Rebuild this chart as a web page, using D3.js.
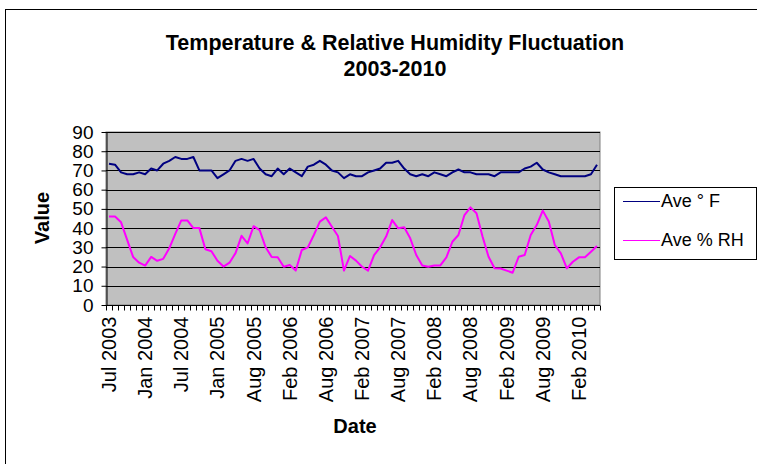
<!DOCTYPE html>
<html>
<head>
<meta charset="utf-8">
<script src="https://cdn.jsdelivr.net/npm/d3@7"></script>
<style>
body { margin:0; background:#fff; }
svg text { font-family:"Liberation Sans", Arial, sans-serif; fill:#000; }
</style>
</head>
<body>
<svg id="chart" width="757" height="464"></svg>
<script>
"use strict";

// monthly readings, Apr 2005 is missing in the sheet
var dates = [
	"Jul 2003","Aug 2003","Sep 2003","Oct 2003","Nov 2003","Dec 2003",
	"Jan 2004","Feb 2004","Mar 2004","Apr 2004","May 2004","Jun 2004","Jul 2004","Aug 2004","Sep 2004","Oct 2004","Nov 2004","Dec 2004",
	"Jan 2005","Feb 2005","Mar 2005","May 2005","Jun 2005","Jul 2005","Aug 2005","Sep 2005","Oct 2005","Nov 2005","Dec 2005",
	"Jan 2006","Feb 2006","Mar 2006","Apr 2006","May 2006","Jun 2006","Jul 2006","Aug 2006","Sep 2006","Oct 2006","Nov 2006","Dec 2006",
	"Jan 2007","Feb 2007","Mar 2007","Apr 2007","May 2007","Jun 2007","Jul 2007","Aug 2007","Sep 2007","Oct 2007","Nov 2007","Dec 2007",
	"Jan 2008","Feb 2008","Mar 2008","Apr 2008","May 2008","Jun 2008","Jul 2008","Aug 2008","Sep 2008","Oct 2008","Nov 2008","Dec 2008",
	"Jan 2009","Feb 2009","Mar 2009","Apr 2009","May 2009","Jun 2009","Jul 2009","Aug 2009","Sep 2009","Oct 2009","Nov 2009","Dec 2009",
	"Jan 2010","Feb 2010","Mar 2010","Apr 2010","May 2010"
];

var aveF = [
	73.5,73,69,68,68,69,68,71,70,73.5,
	75,77,76,76,77,70,70,70,66,68,
	70,75,76,75,76,71,68,67,71,68,
	71,69,67,72,73,75,73,70,69,66,
	68,67,67,69,70,71,74,74,75,71,
	68,67,68,67,69,68,67,69,70.5,69,
	69,68,68,68,67,69,69,69,69,71,
	72,74,70.5,69,68,67,67,67,67,67,
	68,73
];

var aveRH = [
	46,46,43,34,25,22,20.5,25,23,24,
	29.5,37,44,44,40,40,29,28,23,20,
	22,27,36,32,41,39,30,25,24.8,19.9,
	20.8,17.9,28.6,30,36.4,43.4,45.6,40.7,35.9,17.9,
	25.5,23.1,19.9,17.9,26,30,35.6,44.2,39.9,40.4,
	34.7,26,20.6,19.9,20.6,20.6,24.8,32.9,36.4,46.8,
	50.8,47.7,35.6,25.1,19.1,19,17.9,16.8,25.1,26,
	36.4,41.6,49.1,43.4,31.2,26.9,19.1,22.5,24.8,24.8,
	27.7,30.7
];

var yTicks = [0,10,20,30,40,50,60,70,80,90];
var seriesNames = ["Ave \u00B0 F", "Ave % RH"];
var seriesColors = ["#000080", "#FF00FF"];

function drawChart(){
	var svg = d3.select("#chart");

	//	outer chart frame
	svg.append("rect").attr("x",5.5).attr("y",9.5).attr("width",800).attr("height",500)
		.attr("fill","#fff").attr("stroke","#000").attr("stroke-width",1);

	var pL = 106, pT = 132, pR = 600, pB = 305;

	var x = d3.scaleBand().domain(d3.range(dates.length)).range([pL, pR]);
	var y = d3.scaleLinear().domain([0, 90]).range([pB, pT]);

	//	plot area
	svg.append("rect").attr("x",pL).attr("y",pT).attr("width",pR-pL).attr("height",pB-pT)
		.attr("fill","#C0C0C0").attr("stroke","#808080").attr("stroke-width",1);

	//	gridlines
	svg.append("g").selectAll("line").data(yTicks.slice(1)).enter().append("line")
		.attr("x1",pL).attr("x2",pR)
		.attr("y1",function(d){ return Math.round(y(d))+0.5; })
		.attr("y2",function(d){ return Math.round(y(d))+0.5; })
		.attr("stroke","#000").attr("stroke-width",1);

	//	y axis
	var yAxis = svg.append("g").attr("transform","translate(" + (pL+0.5) + ",0)")
		.call(d3.axisLeft(y).tickValues(yTicks).tickSize(5).tickSizeOuter(0).tickPadding(8));
	yAxis.attr("font-family",null).attr("font-size",null);
	yAxis.select(".domain").attr("stroke","#000");
	yAxis.selectAll("line").attr("stroke","#000");
	yAxis.selectAll("text").style("font-size","19px").attr("fill","#000");

	//	x axis - ticks on every category boundary, label every 6th
	var xg = svg.append("g").attr("transform","translate(0," + (pB+0.5) + ")");
	xg.append("line").attr("x1",pL).attr("x2",pR).attr("stroke","#000");
	xg.selectAll(".tk").data(d3.range(dates.length+1)).enter().append("line")
		.attr("class","tk")
		.attr("x1",function(i){ return Math.round(pL + i*x.step())+0.5; })
		.attr("x2",function(i){ return Math.round(pL + i*x.step())+0.5; })
		.attr("y1",0).attr("y2",5).attr("stroke","#000");

	xg.selectAll(".lbl").data(d3.range(0, dates.length, 6)).enter().append("text")
		.attr("class","lbl")
		.attr("transform",function(i){ return "translate(" + (x(i) + x.bandwidth()/2) + ",11) rotate(-90)"; })
		.attr("text-anchor","end").attr("dy","0.35em")
		.style("font-size","20px")
		.text(function(i){ return dates[i]; });

	//	series lines
	var series = [aveF, aveRH];
	var line = d3.line()
		.x(function(d,i){ return x(i) + x.bandwidth()/2; })
		.y(function(d){ return y(d); });

	svg.append("g").selectAll("path").data(series).enter().append("path")
		.attr("d", line)
		.attr("fill","none")
		.attr("stroke",function(d,i){ return seriesColors[i]; })
		.attr("stroke-width",2)
		.attr("stroke-linejoin","round");

	//	titles
	svg.append("text").attr("x",395).attr("y",50).attr("text-anchor","middle")
		.style("font-size","21.5px").style("font-weight","bold")
		.text("Temperature & Relative Humidity Fluctuation");
	svg.append("text").attr("x",395).attr("y",76).attr("text-anchor","middle")
		.style("font-size","21.5px").style("font-weight","bold")
		.text("2003-2010");

	svg.append("text").attr("transform","translate(49,218) rotate(-90)").attr("text-anchor","middle")
		.style("font-size","20px").style("font-weight","bold").text("Value");
	svg.append("text").attr("x",355).attr("y",433).attr("text-anchor","middle")
		.style("font-size","20px").style("font-weight","bold").text("Date");

	//	legend
	var lg = svg.append("g");
	lg.append("rect").attr("x",614.5).attr("y",187.5).attr("width",142).attr("height",72)
		.attr("fill","#fff").attr("stroke","#000");
	var items = lg.selectAll(".item").data(seriesNames).enter().append("g")
		.attr("transform",function(d,i){ return "translate(0," + (201 + i*39) + ")"; });
	items.append("line").attr("x1",623).attr("x2",660).attr("y1",0.5).attr("y2",0.5)
		.attr("stroke",function(d,i){ return seriesColors[i]; }).attr("stroke-width",1);
	items.append("text").attr("x",661).attr("dy","0.35em").style("font-size","18px")
		.text(function(d){ return d; });
}

drawChart();
</script>
</body>
</html>
